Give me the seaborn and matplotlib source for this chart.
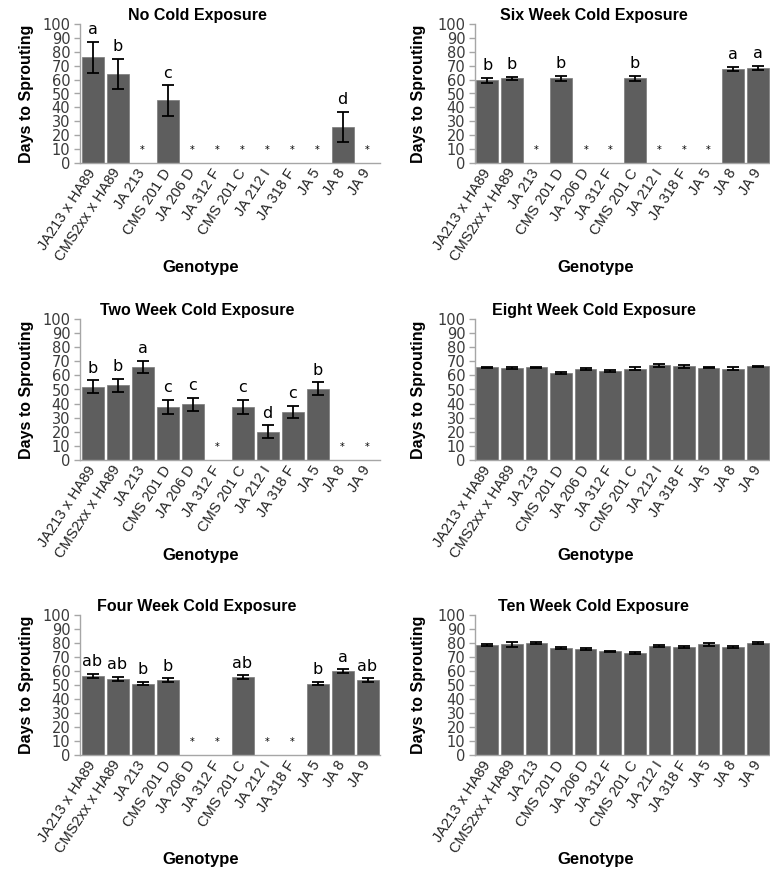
import numpy as np
import pandas as pd
import matplotlib
matplotlib.use("Agg")
import matplotlib.pyplot as plt
import seaborn as sns

nan = np.nan

genotypes = ["JA213 x HA89", "CMS2xx x HA89", "JA 213", "CMS 201 D", "JA 206 D",
             "JA 312 F", "CMS 201 C", "JA 212 I", "JA 318 F", "JA 5", "JA 8", "JA 9"]

# mean days to sprouting, standard error and significance groups per treatment
no_cold_mean = [76, 64, nan, 45, nan, nan, nan, nan, nan, nan, 26, nan]
no_cold_err = [11, 11, nan, 11, nan, nan, nan, nan, nan, nan, 11, nan]
no_cold_letters = ["a", "b", "", "c", "", "", "", "", "", "", "d", ""]

two_week_mean = [52, 53, 66, 37.5, 39.5, nan, 37.5, 20, 34, 50.5, nan, nan]
two_week_err = [4.5, 4.5, 4.5, 5, 4.5, nan, 5, 4.5, 4.5, 4.5, nan, nan]
two_week_letters = ["b", "b", "a", "c", "c", "", "c", "d", "c", "b", "", ""]

four_week_mean = [56.5, 54.5, 51, 53.5, nan, nan, 55.5, nan, nan, 51, 60, 53.5]
four_week_err = [1.3, 1.3, 1.3, 1.3, nan, nan, 1.3, nan, nan, 1.3, 1.2, 1.2]
four_week_letters = ["ab", "ab", "b", "b", "", "", "ab", "", "", "b", "a", "ab"]

six_week_mean = [59.5, 61, nan, 61, nan, nan, 61, nan, nan, nan, 67.5, 68.5]
six_week_err = [1.6, 1.2, nan, 1.8, nan, nan, 1.8, nan, nan, nan, 1.6, 1.6]
six_week_letters = ["b", "b", "", "b", "", "", "b", "", "", "", "a", "a"]

eight_week_mean = [65.7, 65.5, 65.7, 61.8, 64.3, 63.2, 64.8, 67.2, 66.5, 65.6, 64.8, 66.5]
eight_week_err = [0.4, 0.8, 0.4, 0.8, 0.8, 0.7, 0.9, 0.9, 0.9, 0.4, 0.9, 0.4]

ten_week_mean = [78.5, 79, 79.8, 76.6, 75.8, 74, 73, 78, 77.4, 79, 77.4, 80.2]
ten_week_err = [0.7, 1.5, 0.7, 0.6, 0.7, 0.6, 0.6, 0.8, 0.7, 0.8, 0.7, 0.8]

no_letters = [""] * len(genotypes)

sns.set_theme(style="white")
plt.rcParams["font.family"] = ["Liberation Sans", "DejaVu Sans"]

BAR = "#5e5e5e"
AXIS = "#a6a6a6"

W, H = 770, 872
fig = plt.figure(figsize=(W / 100, H / 100), dpi=100)


def rect(x0, x1, ytop, ybot):
    return [x0 / W, 1 - ybot / H, (x1 - x0) / W, (ybot - ytop) / H]


def draw_panel(ax, title, means, errs, letters, title_x, label_x, label_y, ylab_x):
    df = pd.DataFrame({"Genotype": genotypes, "Days": means, "SE": errs})
    present = df.dropna(subset=["Days"])
    sns.barplot(data=present, x="Genotype", y="Days", order=genotypes,
                color=BAR, saturation=1, width=0.88, errorbar=None,
                edgecolor="#7a7a7a", linewidth=0.5, ax=ax)
    pos = [genotypes.index(g) for g in present["Genotype"]]
    ax.errorbar(pos, present["Days"], yerr=present["SE"], fmt="none",
                ecolor="black", elinewidth=1.3, capsize=4, capthick=1.3)
    for i, (m, e, lab) in enumerate(zip(means, errs, letters)):
        if np.isnan(m):
            ax.text(i, 9, "*", ha="center", va="center", fontsize=7,
                    family="DejaVu Sans", color="black")
        elif lab:
            ax.text(i, m + e + 5.5, lab, ha="center", va="baseline",
                    fontsize=11.5, family="DejaVu Sans", color="black")

    ax.set_xlim(-0.5, len(genotypes) - 0.5)
    ax.set_ylim(0, 100)
    ax.set_yticks(range(0, 101, 10))
    ax.tick_params(axis="y", which="major", left=True, length=4, width=1,
                   color=AXIS, pad=3, labelsize=10.5, labelcolor="#3a3a3a")
    for t in ax.get_yticklabels():
        t.set_family("DejaVu Sans")
    ax.tick_params(axis="x", length=0, pad=5, labelsize=10.5, labelcolor="#222222")
    ax.set_xticks(range(len(genotypes)))
    ax.set_xticklabels(genotypes, rotation=57, ha="right", va="center",
                       rotation_mode="anchor")
    for side in ("top", "right"):
        ax.spines[side].set_visible(False)
    for side in ("left", "bottom"):
        ax.spines[side].set_color(AXIS)
        ax.spines[side].set_linewidth(1)
    ax.set_xlabel("")
    ax.set_ylabel("")
    ax.text(title_x, 1.06, title, transform=ax.transAxes, ha="center",
            va="center", fontsize=11.5, fontweight="bold", color="black")
    ax.text(label_x, label_y, "Genotype", transform=ax.transAxes, ha="center",
            va="center", fontsize=12, fontweight="bold", color="black")
    ax.text(ylab_x, 0.5, "Days to Sprouting", transform=ax.transAxes,
            ha="center", va="center", rotation=90, fontsize=11.5,
            fontweight="bold", color="black")


rows = [(24, 163), (319, 460), (615, 755)]
genotype_label_y = [-0.755, -0.68, -0.745]
left_panels = [
    ("No Cold Exposure", no_cold_mean, no_cold_err, no_cold_letters),
    ("Two Week Cold Exposure", two_week_mean, two_week_err, two_week_letters),
    ("Four Week Cold Exposure", four_week_mean, four_week_err, four_week_letters),
]
right_panels = [
    ("Six Week Cold Exposure", six_week_mean, six_week_err, six_week_letters),
    ("Eight Week Cold Exposure", eight_week_mean, eight_week_err, no_letters),
    ("Ten Week Cold Exposure", ten_week_mean, ten_week_err, no_letters),
]

for (ytop, ybot), gy, (title, m, e, l) in zip(rows, genotype_label_y, left_panels):
    ax = fig.add_axes(rect(80, 380, ytop, ybot))
    draw_panel(ax, title, m, e, l, title_x=0.39, label_x=0.403, label_y=gy,
               ylab_x=-0.177)

for (ytop, ybot), gy, (title, m, e, l) in zip(rows, genotype_label_y, right_panels):
    ax = fig.add_axes(rect(475, 770, ytop, ybot))
    draw_panel(ax, title, m, e, l, title_x=0.403, label_x=0.41, label_y=gy,
               ylab_x=-0.193)

fig.savefig("out.png", dpi=100, facecolor="white")
